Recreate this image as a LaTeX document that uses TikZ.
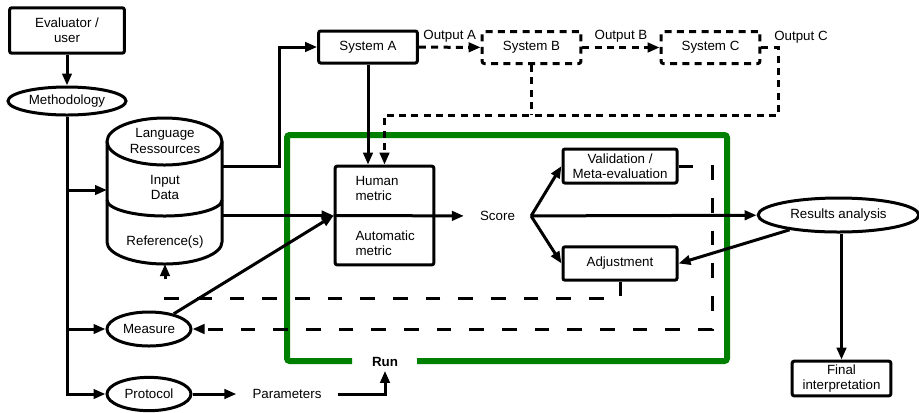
\documentclass[tikz,border=0pt]{standalone}
\usepackage{fontspec}
\setmainfont{Liberation Sans}
\usetikzlibrary{arrows.meta,shapes.geometric,positioning}
\definecolor{runGreen}{RGB}{0,128,0}

\begin{document}
\begin{tikzpicture}[x=0.75pt,y=0.75pt,yscale=-1,xscale=1,
    font=\fontsize{10pt}{11.5pt}\selectfont,
    line width=2.25pt,
    box/.style={draw,rectangle,rounded corners=1.5pt,align=center,inner sep=1pt},
    dbox/.style={box,dash pattern=on 5.25pt off 4pt},
    oval/.style={draw,ellipse,align=center,inner sep=1pt},
    conn/.style={-{Triangle[length=9pt,width=7pt]}},
    dconn/.style={conn,dash pattern=on 5.25pt off 4pt},
    lconn/.style={conn,dash pattern=on 11pt off 13.5pt},
    lline/.style={dash pattern=on 11pt off 13.5pt},
    runline/.style={draw=runGreen,line width=4.5pt,rounded corners=2pt},
    plain/.style={inner sep=0.75pt,align=center}]
    \useasboundingbox (0,0) rectangle (919,412);

    %Shape: Run frame
    \draw[runline] (352,361) -| (287,135) -| (727,361) -- (417,361);

    %Shape: Can (language ressources)
    \draw (164.5,141.5) ellipse [x radius=57.5, y radius=23.5];
    \draw (107,141.5) -- (107,242) arc [start angle=180, end angle=0, x radius=57.5, y radius=22] -- (222,141.5);
    \draw (107,200) arc [start angle=180, end angle=0, x radius=57.5, y radius=16];
    \coordinate (resTop) at (222,166);
    \coordinate (resMid) at (222,215.5);
    \coordinate (resLeft) at (107,190);
    \coordinate (resBot) at (165,264);
    % Text Node
    \node[plain] (lres) at (165,141) {Language\\Ressources};
    \node[plain] (inp) at (165,187.5) {Input\\Data};
    \node[plain] (refs) at (165,242) {Reference(s)};

    % Boxes and ovals
    \node[box,minimum width=86pt,minimum height=34pt] (evl) at (67,30.5) {Evaluator /\\user};
    \node[oval,minimum width=88.5pt,minimum height=21pt] (meth) at (67,101) {Methodology};
    \node[oval,minimum width=63pt,minimum height=25.5pt] (meas) at (149,329) {Measure};
    \node[oval,minimum width=63pt,minimum height=25pt] (prot) at (149,394) {Protocol};
    \node[box,minimum width=74pt,minimum height=24pt] (sysa) at (368,47) {System A};
    \node[dbox,minimum width=74pt,minimum height=24pt] (sysb) at (531.5,47.5) {System B};
    \node[dbox,minimum width=74pt,minimum height=24pt] (sysc) at (710.5,47.5) {System C};
    \node[box,minimum width=74pt,minimum height=74pt] (metric) at (384.5,215.5) {};
    \node[box,minimum width=85.5pt,minimum height=25.5pt] (valid) at (620,166) {Validation /\\Meta-evaluation};
    \node[box,minimum width=85.5pt,minimum height=25pt] (adj) at (620,263.5) {Adjustment};
    \node[oval,minimum width=120.5pt,minimum height=25.5pt] (resan) at (838.5,215) {Results analysis};
    \node[box,minimum width=74pt,minimum height=26pt] (final) at (841.5,378.5) {Final\\interpretation};

    % Text Node
    \node[anchor=west,align=left,inner sep=0.75pt] (hum) at (353,188.5) {Human\\metric};
    \node[anchor=west,align=left,inner sep=0.75pt] (auto) at (353,243.5) {Automatic\\metric};
    \node[inner xsep=11pt] (score) at (497.5,216) {Score};
    \node[inner xsep=11pt] (param) at (287,394) {Parameters};
    \node[inner sep=2pt,font=\fontsize{10pt}{11.5pt}\selectfont\bfseries] (run) at (385,362) {Run};
    \node[plain] (outC) at (801,37) {Output C};

    % Methodology branches
    \draw[conn] (evl) -- (meth);
    \draw[conn] (meth) |- (prot);
    \draw[conn] (meth.south |- resLeft) -- (resLeft);
    \draw[conn] (meth.south |- meas) -- (meas);
    \draw[conn] (prot) -- (param);
    \draw[conn] (param) -| (run);

    % Systems
    \coordinate (bendA) at (279,166);
    \draw[conn] (resTop) -- (bendA) |- (sysa);
    \draw[dconn] (sysa) -- node[plain,above=2pt] (outA) {Output A} (sysb);
    \draw[dconn] (sysb) -- node[plain,above=2pt] (outB) {Output B} (sysc);
    \coordinate (cOut) at (778,47.5);
    \coordinate (fb) at (778,115);
    \draw[dconn] (sysc) -- (cOut) -- (fb) -| (metric.north);
    \draw[dash pattern=on 5.25pt off 4pt] (sysb) -- (sysb.south |- fb);
    \draw[conn] (sysa) -- (sysa |- metric.north);

    % Metrics and score
    \draw[conn] (resMid) -- (metric.west);
    \draw[conn] (meas) -- (metric.west);
    \draw[conn] (metric.west) -- (score);
    \draw[conn] (score.east) -- (valid.west);
    \draw[conn] (score.east) -- (adj.west);
    \draw[conn] (score) -- (resan);
    \draw[conn] (resan) -- (adj.east);
    \draw[conn] (final.north |- resan.south) -- (final);

    % Feedback loops
    \coordinate (vr) at (712,329);
    \draw[lconn] (valid) -| (vr) -- (meas);
    \coordinate (refB) at (165,298);
    \draw[lconn] (adj) |- (refB) -- (resBot);
\end{tikzpicture}
\end{document}
